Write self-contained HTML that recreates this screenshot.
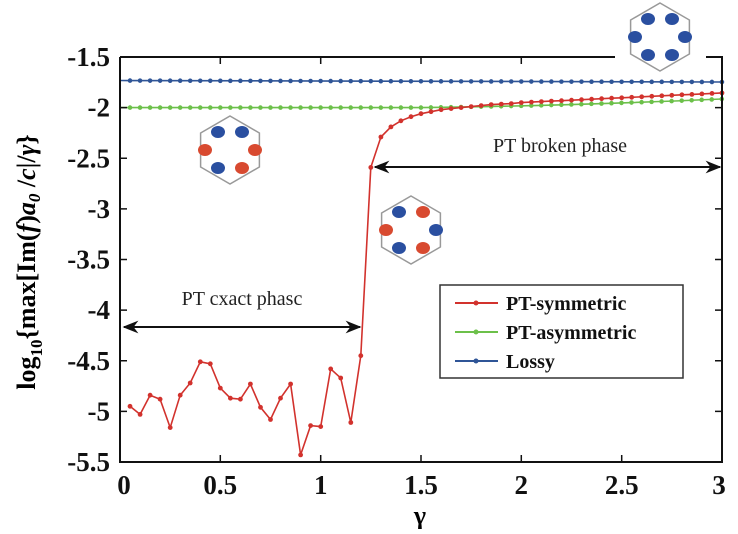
<!DOCTYPE html>
<html><head><meta charset="utf-8"><style>
body{margin:0;background:#fff}
svg text{font-family:"Liberation Serif",serif}
</style></head><body>
<svg width="738" height="529" viewBox="0 0 738 529" xmlns="http://www.w3.org/2000/svg">
<defs>
<marker id="ah" viewBox="0 0 10 10" refX="9" refY="5" markerWidth="8" markerHeight="8" orient="auto-start-reverse"><path d="M0,1 L10,5 L0,9 L3,5 z" fill="#111"/></marker>
<marker id="mr" viewBox="0 0 6 6" refX="3" refY="3" markerWidth="6" markerHeight="6" markerUnits="userSpaceOnUse"><circle cx="3" cy="3" r="2.4" fill="#d2322d"/></marker>
</defs>
<line x1="120" y1="80.5" x2="722" y2="82" stroke="#2f5597" stroke-width="1.6"/>
<line x1="130" y1="80.6" x2="722" y2="82" stroke="#2f5597" stroke-width="4.6" stroke-linecap="round" stroke-dasharray="0 10.033"/>
<path d="M120,107.6 L421,107.6 Q560,106 722,99" fill="none" stroke="#6cc04a" stroke-width="1.6"/>
<path d="M130,107.6 L421,107.6 Q560,106 722,99" fill="none" stroke="#6cc04a" stroke-width="4.6" stroke-linecap="round" stroke-dasharray="0 10.033"/>
<polyline fill="none" stroke="#d2322d" stroke-width="1.6" marker-start="url(#mr)" marker-mid="url(#mr)" marker-end="url(#mr)" points="130,406.3 140.1,414.4 150.1,395.2 160.1,399.2 170.2,427.6 180.2,395.2 190.2,383 200.3,361.8 210.3,363.8 220.3,388.1 230.4,398.2 240.4,399.2 250.4,384 260.5,407.3 270.5,419.5 280.5,398.2 290.6,384 300.6,454.9 310.6,425.6 320.7,426.6 330.7,368.9 340.7,378 350.8,422.5 360.8,355.7 370.8,167.4 380.9,137 390.9,126.9 400.9,120.8 411,116.7 421,113.7 431,111.7 441.1,109.7 451.1,108.6 461.1,107.6 471.2,106.6 481.2,105.6 491.2,104.6 501.3,104.1 511.3,103.6 521.3,102.6 531.4,102.1 541.4,101.6 551.4,101.1 561.5,100.7 571.5,100.2 581.5,99.7 591.6,99.2 601.6,98.7 611.6,98.2 621.7,97.8 631.7,97.3 641.7,96.8 651.8,96.3 661.8,95.8 671.8,95.3 681.9,94.8 691.9,94.4 701.9,93.9 712,93.4 722,92.9"/>
<path d="M120,57 L120,462 L722,462 L722,57 L706,57 M615,57 L120,57" stroke="#111" stroke-width="2" fill="none"/>
<g stroke="#111" stroke-width="1.5">
<path d="M120,107.6h7M120,158.25h7M120,208.9h7M120,259.5h7M120,310.1h7M120,360.75h7M120,411.4h7"/>
<path d="M722,107.6h-7M722,158.25h-7M722,208.9h-7M722,259.5h-7M722,310.1h-7M722,360.75h-7M722,411.4h-7"/>
<path d="M220.3,462v-7M320.7,462v-7M421,462v-7M521.3,462v-7M621.7,462v-7"/>
<path d="M220.3,57v7M320.7,57v7M421,57v7M521.3,57v7"/>
</g>
<g font-weight="bold" font-size="27" text-anchor="end" fill="#111">
<text x="110" y="66">-1.5</text><text x="110" y="116.6">-2</text><text x="110" y="167.3">-2.5</text><text x="110" y="217.9">-3</text><text x="110" y="268.5">-3.5</text><text x="110" y="319.1">-4</text><text x="110" y="369.8">-4.5</text><text x="110" y="420.4">-5</text><text x="110" y="471">-5.5</text>
</g>
<g font-weight="bold" font-size="27" text-anchor="middle" fill="#111">
<text x="124" y="494">0</text><text x="220.3" y="494">0.5</text><text x="320.7" y="494">1</text><text x="421" y="494">1.5</text><text x="521.3" y="494">2</text><text x="621.7" y="494">2.5</text><text x="719" y="494">3</text>
</g>
<text x="420" y="524" font-size="26" font-weight="bold" text-anchor="middle">γ</text>
<text transform="translate(35,262) rotate(-90)" font-size="26" font-weight="bold" text-anchor="middle">log<tspan font-size="17" dy="7">10</tspan><tspan dy="-7">{max[Im(</tspan><tspan font-style="italic">f</tspan>)<tspan font-style="italic">a</tspan><tspan font-size="17" dy="5" font-style="italic">0</tspan><tspan dy="-5"> /</tspan><tspan font-style="italic">c</tspan>|/<tspan font-style="italic">γ</tspan>}</text>
<line x1="124" y1="327" x2="360" y2="327" stroke="#111" stroke-width="2" marker-start="url(#ah)" marker-end="url(#ah)"/>
<line x1="375" y1="167" x2="720" y2="167" stroke="#111" stroke-width="2" marker-start="url(#ah)" marker-end="url(#ah)"/>
<text x="242" y="305" font-size="20" text-anchor="middle" fill="#222">PT cxact phasc</text>
<text x="560" y="152" font-size="20" text-anchor="middle" fill="#222">PT broken phase</text>
<rect x="440" y="285" width="243" height="93" fill="#fff" stroke="#333" stroke-width="1.5"/>
<g stroke-width="2">
<line x1="455" y1="303" x2="498" y2="303" stroke="#d2322d"/><circle cx="476" cy="303" r="2.5" fill="#d2322d"/>
<line x1="455" y1="332" x2="498" y2="332" stroke="#6cc04a"/><circle cx="476" cy="332" r="2.5" fill="#6cc04a"/>
<line x1="455" y1="361" x2="498" y2="361" stroke="#2f5597"/><circle cx="476" cy="361" r="2.5" fill="#2f5597"/>
</g>
<g font-size="20" font-weight="bold" fill="#111">
<text x="506" y="310">PT-symmetric</text>
<text x="506" y="339">PT-asymmetric</text>
<text x="506" y="368">Lossy</text>
</g>
<g stroke="#999" stroke-width="1.5" fill="#fff">
<polygon points="230,116 259.4,133 259.4,167 230,184 200.6,167 200.6,133"/>
<polygon points="660,3 689.4,20 689.4,54 660,71 630.6,54 630.6,20"/>
<polygon points="411,196 440.4,213 440.4,247 411,264 381.6,247 381.6,213"/>
</g>
<g>
<ellipse cx="218" cy="132" rx="7" ry="6" fill="#2a4fa0"/><ellipse cx="242" cy="132" rx="7" ry="6" fill="#2a4fa0"/>
<ellipse cx="205" cy="150" rx="7" ry="6" fill="#d84a30"/><ellipse cx="255" cy="150" rx="7" ry="6" fill="#d84a30"/>
<ellipse cx="218" cy="168" rx="7" ry="6" fill="#2a4fa0"/><ellipse cx="242" cy="168" rx="7" ry="6" fill="#d84a30"/>
<ellipse cx="648" cy="19" rx="7" ry="6" fill="#2a4fa0"/><ellipse cx="672" cy="19" rx="7" ry="6" fill="#2a4fa0"/>
<ellipse cx="635" cy="37" rx="7" ry="6" fill="#2a4fa0"/><ellipse cx="685" cy="37" rx="7" ry="6" fill="#2a4fa0"/>
<ellipse cx="648" cy="55" rx="7" ry="6" fill="#2a4fa0"/><ellipse cx="672" cy="55" rx="7" ry="6" fill="#2a4fa0"/>
<ellipse cx="399" cy="212" rx="7" ry="6" fill="#2a4fa0"/><ellipse cx="423" cy="212" rx="7" ry="6" fill="#d84a30"/>
<ellipse cx="386" cy="230" rx="7" ry="6" fill="#d84a30"/><ellipse cx="436" cy="230" rx="7" ry="6" fill="#2a4fa0"/>
<ellipse cx="399" cy="248" rx="7" ry="6" fill="#2a4fa0"/><ellipse cx="423" cy="248" rx="7" ry="6" fill="#d84a30"/>
</g>
</svg>
</body></html>
